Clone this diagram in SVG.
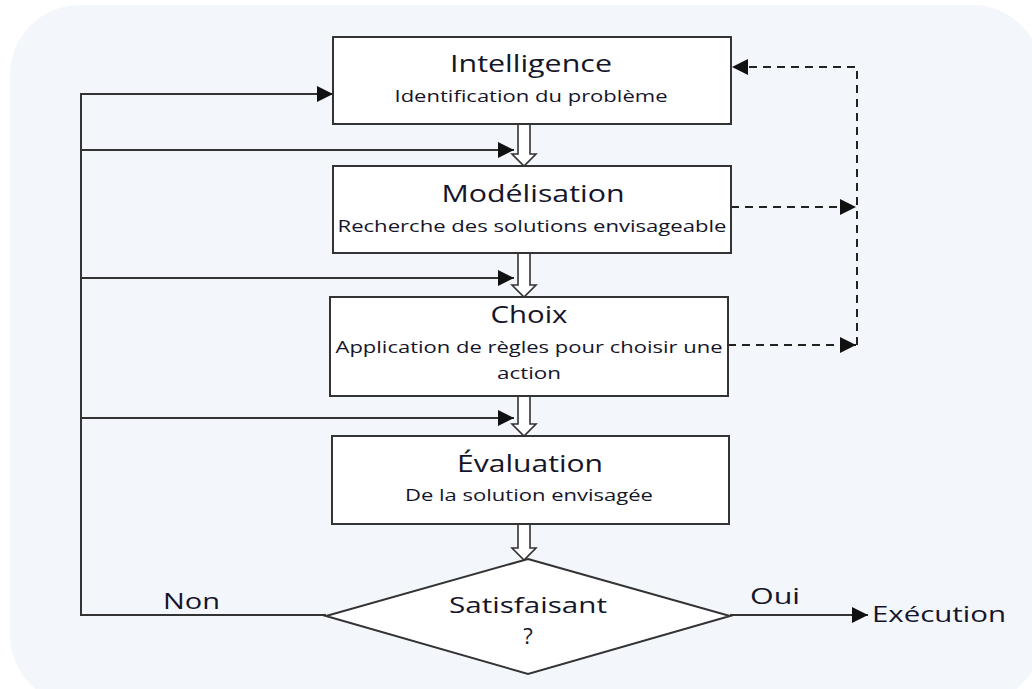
<svg xmlns="http://www.w3.org/2000/svg" width="1032" height="689" viewBox="0 0 1032 689">
  <defs>
    <marker id="arrow" viewBox="0 0 10 10" refX="10" refY="5" markerWidth="16" markerHeight="16" markerUnits="userSpaceOnUse" orient="auto">
      <path d="M0,0 L10,5 L0,10 z" fill="#111"/>
    </marker>
    <style>
      .box { fill: #ffffff; stroke: #333333; stroke-width: 2; }
      .line { fill: none; stroke: #333333; stroke-width: 2; }
      .dash { fill: none; stroke: #222222; stroke-width: 2; stroke-dasharray: 8 6; }
      .hollow { fill: #ffffff; stroke: #333333; stroke-width: 1.6; stroke-linejoin: miter; }
      text { font-family: "Open Sans", "Noto Sans", "Liberation Sans", sans-serif; fill: #15152a; }
      .title { font-size: 24px; text-anchor: middle; }
      .sub { font-size: 16.5px; text-anchor: middle; }
      .label { font-size: 21px; }
    </style>
  </defs>

  <!-- background panel -->
  <rect x="10" y="5" width="1032" height="700" rx="70" ry="70" fill="#f3f6fb"/>

  <!-- connectors -->
  <g id="connectors">
    <!-- hollow flow arrows between steps -->
    <path class="hollow" d="M518,124 L530,124 L530,154 L536,154 L524,166 L512,154 L518,154 Z"/>
    <path class="hollow" d="M518,253 L530,253 L530,285 L536,285 L524,297 L512,285 L518,285 Z"/>
    <path class="hollow" d="M518,396 L530,396 L530,424 L536,424 L524,436 L512,424 L518,424 Z"/>
    <path class="hollow" d="M518,524 L530,524 L530,548 L536,548 L524,560 L512,548 L518,548 Z"/>

    <!-- "Non" feedback loop -->
    <path class="line" d="M326,615 L81,615 L81,94 L333,94" marker-end="url(#arrow)"/>
    <path class="line" d="M81,150 L514,150" marker-end="url(#arrow)"/>
    <path class="line" d="M81,278 L514,278" marker-end="url(#arrow)"/>
    <path class="line" d="M81,418 L514,418" marker-end="url(#arrow)"/>

    <!-- "Oui" exit -->
    <path class="line" d="M730,615 L868,615" marker-end="url(#arrow)"/>

    <!-- dashed return path -->
    <path class="dash" d="M857,345 L857,67 L732,67" marker-end="url(#arrow)"/>
    <path class="dash" d="M731,207 L856,207" marker-end="url(#arrow)"/>
    <path class="dash" d="M728,345 L856,345" marker-end="url(#arrow)"/>
  </g>

  <g id="intelligence">
    <rect class="box" x="333" y="37" width="398" height="87"/>
    <text class="title" x="531" y="72" textLength="162" lengthAdjust="spacingAndGlyphs">Intelligence</text>
    <text class="sub" x="531" y="102" textLength="273" lengthAdjust="spacingAndGlyphs">Identification du problème</text>
  </g>

  <g id="modelisation">
    <rect class="box" x="333" y="166" width="398" height="87"/>
    <text class="title" x="533" y="202" textLength="183" lengthAdjust="spacingAndGlyphs">Modélisation</text>
    <text class="sub" x="532" y="232" textLength="389" lengthAdjust="spacingAndGlyphs">Recherche des solutions envisageable</text>
  </g>

  <g id="choix">
    <rect class="box" x="330" y="297" width="398" height="99"/>
    <text class="title" x="529" y="323" textLength="77" lengthAdjust="spacingAndGlyphs">Choix</text>
    <text class="sub" x="529" y="353" textLength="387" lengthAdjust="spacingAndGlyphs">Application de règles pour choisir une</text>
    <text class="sub" x="529" y="379" textLength="64" lengthAdjust="spacingAndGlyphs">action</text>
  </g>

  <g id="evaluation">
    <rect class="box" x="332" y="436" width="397" height="88"/>
    <text class="title" x="530" y="472" textLength="146" lengthAdjust="spacingAndGlyphs">Évaluation</text>
    <text class="sub" x="529" y="501" textLength="248" lengthAdjust="spacingAndGlyphs">De la solution envisagée</text>
  </g>

  <g id="decision">
    <polygon class="box" points="528,559 730,616 528,674 326,616"/>
    <text class="title" x="528" y="613" style="font-size:22px" textLength="158" lengthAdjust="spacingAndGlyphs">Satisfaisant</text>
    <text class="title" x="528" y="644" style="font-size:22px">?</text>
  </g>

  <g id="labels">
    <text class="label" x="163" y="609" textLength="57" lengthAdjust="spacingAndGlyphs">Non</text>
    <text class="label" x="750" y="604" textLength="50" lengthAdjust="spacingAndGlyphs">Oui</text>
  </g>

  <g id="execution">
    <text class="label" x="872" y="622" style="font-size:22px" textLength="134" lengthAdjust="spacingAndGlyphs">Exécution</text>
  </g>
</svg>
